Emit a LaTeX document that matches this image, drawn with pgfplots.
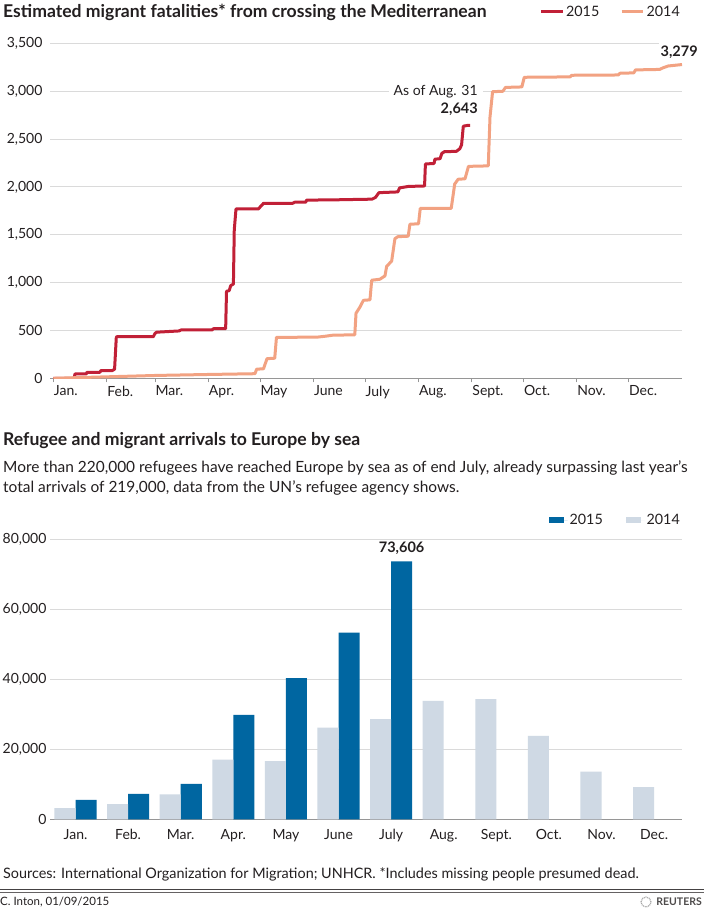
\documentclass[border=0pt]{standalone}
\usepackage{fontspec}
\setmainfont{Lato}
\usepackage{pgfplots}
\pgfplotsset{compat=1.18}
\definecolor{red15}{RGB}{193,32,55}
\definecolor{sal14}{RGB}{242,162,130}
\definecolor{blue15}{RGB}{0,102,161}
\definecolor{lb14}{RGB}{207,217,228}
\definecolor{gridc}{RGB}{218,218,218}
\definecolor{axc}{RGB}{150,150,150}
\definecolor{txt}{RGB}{35,31,32}
\newcommand{\fs}[1]{\fontsize{#1}{#1}\selectfont}
\begin{document}
\begin{tikzpicture}
\path[use as bounding box, fill=white] (0pt,0pt) rectangle (704pt,-909pt);
% ---------- top chart ----------
\node[anchor=west, inner sep=0pt, text=txt, font=\fs{17.6}\bfseries] at (3pt,-12pt) {Estimated migrant fatalities* from crossing the Mediterranean};
\begin{axis}[
  at={(50pt,-378.3pt)}, anchor=south west,
  scale only axis, width=632pt, height=334.9pt,
  xmin=-2, xmax=365, ymin=0, ymax=3500,
  clip mode=individual,
  axis line style={draw=none},
  ytick={0,500,...,3500},
  ymajorgrids, grid style={gridc, line width=1pt},
  extra y ticks={0}, extra y tick labels={},
  extra y tick style={grid style={axc,line width=1.3pt}},
  xtick={0,31,59,90,120,151,181,212,243,273,304,334},
  xticklabels={Jan.,Feb.,Mar.,Apr.,May,June,July,Aug.,Sept.,Oct.,Nov.,Dec.},
  xtick pos=bottom, tick align=outside, major tick length=4pt,
  x tick style={axc, line width=1pt}, y tick style={draw=none},
  xticklabel style={anchor=north west, xshift=-3pt, font=\fs{14}, text=txt},
  yticklabel style={font=\fs{14}, text=txt},
  legend style={at={(1,1.0938)}, anchor=east, draw=none, fill=none, inner sep=0pt,
     legend columns=2, font=\fs{14.3}, text=txt,
     /tikz/every even column/.append style={column sep=19pt}},
  legend image code/.code={\draw[#1, line width=3pt] (0pt,0pt) -- (20pt,0pt);\path (0pt,0pt) -- (21.3pt,0pt);},
  /pgf/number format/1000 sep={,},
  /pgf/number format/assume math mode=true,
]
\addplot[red15, line width=3pt, line join=round] coordinates {
(0,0) (12,0) (12.5,45) (19,45) (19.5,63) (27,63) (27.5,80) (34,80) (35.5,95) (36.5,430)
(37,435) (58,435) (59,470) (60,482) (73,495) (74,505) (92,505) (93,519) (100,519)
(100.5,910) (102,915) (103,970) (104.5,985) (105,1550) (106,1770) (119,1770) (120,1790)
(122,1829) (139,1829) (140,1840) (146.5,1840) (147,1862) (166,1866) (178,1870) (185,1872)
(187,1890) (189,1940) (200,1948) (201,1990) (206,2005) (215.5,2010) (216,2240) (221,2245)
(221.5,2290) (224.5,2295) (225.5,2350) (227,2368) (234,2372) (236,2400) (237,2440)
(238,2635) (240.5,2643) (242,2643)};
\addlegendentry{2015}
\addplot[sal14, line width=3pt, line join=round] coordinates {
(0,0) (30,15) (60,30) (90,40) (117,48) (118,95) (122,100) (124,205) (128.5,210)
(129.5,428) (153,430) (158,440) (162,450) (175,455) (175.7,680) (178,745) (180,815)
(183.8,820) (184.8,1025) (189.5,1035) (192.5,1070) (193.5,1170) (196.4,1225) (198.3,1460)
(200,1480) (206,1485) (207,1610) (212,1615) (213,1775) (231,1777) (233,2030) (235,2080)
(239,2085) (241,2215) (252.5,2220) (253.5,2730) (255,2995) (261,3000) (262.5,3040)
(272,3045) (273.4,3146) (300,3150) (301,3167) (328,3170) (329,3188) (337,3192) (338,3223)
(352,3228) (354,3245) (357,3264) (365,3279)};
\addlegendentry{2014}
\node[anchor=east, fill=white, inner xsep=5pt, inner ysep=2pt, font=\fs{14}, text=txt] at (axis cs:249.4,3000) {As of Aug. 31};
\node[anchor=east, inner sep=0pt, font=\fs{14.5}\bfseries, text=txt] at (axis cs:246.5,2815) {2,643};
\node[anchor=east, fill=white, inner xsep=2pt, inner ysep=3pt, font=\fs{14.5}\bfseries, text=txt] at (axis cs:375.4,3411) {3,279};
\end{axis}
% ---------- bottom chart ----------
\node[anchor=west, inner sep=0pt, text=txt, font=\fs{17.6}\bfseries] at (3pt,-441pt) {Refugee and migrant arrivals to Europe by sea};
\node[anchor=west, inner sep=0pt, text=txt, font=\fs{15.45}] at (3pt,-468pt) {More than 220,000 refugees have reached Europe by sea as of end July, already surpassing last year's};
\node[anchor=west, inner sep=0pt, text=txt, font=\fs{15.45}] at (3pt,-488pt) {total arrivals of 219,000, data from the UN's refugee agency shows.};
\begin{axis}[
  at={(50pt,-819.3pt)}, anchor=south west,
  scale only axis, width=632pt, height=280.3pt,
  xmin=-0.485, xmax=11.53, ymin=0, ymax=80000,
  clip mode=individual,
  axis line style={draw=none},
  ytick={0,20000,...,80000},
  scaled y ticks=false,
  ymajorgrids, grid style={gridc, line width=1pt},
  extra y ticks={0}, extra y tick labels={},
  extra y tick style={grid style={axc,line width=1.3pt}},
  xtick={0,...,11},
  xticklabels={Jan.,Feb.,Mar.,Apr.,May,June,July,Aug.,Sept.,Oct.,Nov.,Dec.},
  tick style={draw=none},
  xticklabel style={font=\fs{14}, text=txt, yshift=-2pt},
  yticklabel style={font=\fs{14}, text=txt},
  ybar, bar width=0.4, bar shift=0,
  legend style={at={(1,1.0678)}, anchor=east, draw=none, fill=none, inner sep=0pt,
     legend columns=2, font=\fs{14.3}, text=txt,
     /tikz/every even column/.append style={column sep=21pt}},
  legend image code/.code={\fill[#1, draw=none] (0pt,-3pt) rectangle (15pt,3pt);\path (0pt,0pt) -- (18.8pt,0pt);},
  /pgf/number format/1000 sep={,},
  /pgf/number format/assume math mode=true,
]
\addplot[fill=blue15, draw=none] coordinates {
(0.2,5550) (1.2,7271) (2.2,10100) (3.2,29800) (4.2,40300) (5.2,53300) (6.2,73606)};
\addlegendentry{2015}
\addplot[fill=lb14, draw=none] coordinates {
(-0.2,3200) (0.8,4300) (1.8,7100) (2.8,17000) (3.8,16600) (4.8,26200) (5.8,28600)
(6.8,33800) (7.8,34300) (8.8,23800) (9.8,13600) (10.8,9200)};
\addlegendentry{2014}
\node[anchor=base, inner sep=0pt, yshift=8.5pt, font=\fs{14.5}\bfseries, text=txt] at (axis cs:6.2,73606) {73,606};
\end{axis}
% ---------- footer ----------
\node[anchor=west, inner sep=0pt, text=txt, font=\fs{14.4}] at (3pt,-874pt) {Sources: International Organization for Migration; UNHCR. *Includes missing people presumed dead.};
\draw[txt!85, line width=1.8pt] (0pt,-889.5pt) -- (704pt,-889.5pt);
\draw[txt!70, line width=0.6pt] (0pt,-892.6pt) -- (704pt,-892.6pt);
\node[anchor=west, inner sep=0pt, text=txt, font=\fs{11.5}] at (0pt,-902pt) {C. Inton, 01/09/2015};
\draw[gray!70, line width=1.2pt, dash pattern=on 1pt off 0.8pt] (646pt,-902pt) circle (5pt);
\node[anchor=east, inner sep=0pt, text=txt!80, font=\fs{10.5}\bfseries] at (702pt,-902pt) {REUTERS};
\end{tikzpicture}
\end{document}
